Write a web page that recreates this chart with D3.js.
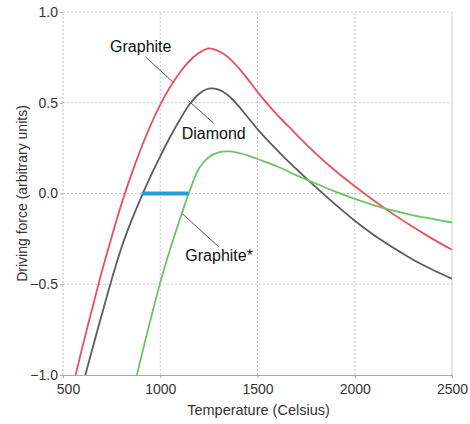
<!DOCTYPE html>
<html><head><meta charset="utf-8">
<script src="https://cdn.jsdelivr.net/npm/d3@7"></script>
<style>
html,body{margin:0;padding:0;background:#fff;}
svg{display:block;font-family:"Liberation Sans",Arial,sans-serif;}
</style></head>
<body><div id="chart"></div>
<script>
// ---- data ----
const xTicks = [500, 1000, 1500, 2000, 2500];
const yTicks = [-1.0, -0.5, 0.0, 0.5, 1.0];

const graphiteT = [565, 600, 650, 700, 750, 800, 850, 900, 950, 1000, 1050, 1100, 1150, 1200, 1250, 1300, 1350, 1400, 1450, 1500, 1550, 1600, 1650, 1700, 1800, 1900, 2000, 2100, 2200, 2300, 2400, 2500];
const graphiteV = [-1.0, -0.845, -0.635, -0.43, -0.24, -0.06, 0.10, 0.245, 0.375, 0.49, 0.585, 0.665, 0.73, 0.775, 0.80, 0.785, 0.75, 0.695, 0.63, 0.56, 0.495, 0.435, 0.38, 0.325, 0.22, 0.125, 0.04, -0.04, -0.115, -0.185, -0.25, -0.31];

const diamondT = [615, 650, 700, 750, 800, 850, 900, 950, 1000, 1050, 1100, 1150, 1200, 1250, 1300, 1350, 1400, 1450, 1500, 1550, 1600, 1650, 1700, 1800, 1900, 2000, 2100, 2200, 2300, 2400, 2500];
const diamondV = [-1.0, -0.86, -0.665, -0.475, -0.30, -0.155, -0.025, 0.095, 0.205, 0.31, 0.405, 0.49, 0.55, 0.578, 0.572, 0.54, 0.485, 0.42, 0.355, 0.295, 0.24, 0.185, 0.135, 0.035, -0.06, -0.15, -0.23, -0.30, -0.365, -0.42, -0.47];

const graphiteStarT = [880, 900, 950, 1000, 1050, 1100, 1150, 1200, 1250, 1300, 1350, 1400, 1450, 1500, 1600, 1700, 1800, 1900, 2000, 2100, 2200, 2300, 2400, 2500];
const graphiteStarV = [-1.0, -0.91, -0.695, -0.49, -0.31, -0.145, 0.01, 0.14, 0.20, 0.226, 0.232, 0.224, 0.21, 0.19, 0.15, 0.10, 0.055, 0.01, -0.03, -0.065, -0.095, -0.12, -0.14, -0.16];

const gapT = [905, 1146];
const gapV = [0, 0];

// annotation anchors in data units: [textT, textV, lineT1, lineV1, lineT2, lineV2]
const labelNames = ["Graphite", "Diamond", "Graphite*"];
const labelAnchors = [
  [742, 0.78, 923, 0.754, 1069, 0.61],
  [1110, 0.30, 1146, 0.51, 1275, 0.387],
  [1129, -0.372, 1112, -0.11, 1300, -0.293]
];

// ---- layout ----
const W = 470, H = 424;
const margin = {left: 63, right: 18, top: 12, bottom: 49};
const svg = d3.select("#chart").append("svg").attr("width", W).attr("height", H);

const x = d3.scaleLinear().domain([500, 2500]).range([margin.left, W - margin.right]);
const y = d3.scaleLinear().domain([-1, 1]).range([H - margin.bottom, margin.top]);

const gridColor = "#c8c8c8";
// grid
svg.append("g").selectAll("line").data(xTicks.slice(1, -1)).join("line")
  .attr("x1", d => x(d)).attr("x2", d => x(d)).attr("y1", y(-1)).attr("y2", y(1))
  .attr("stroke", gridColor).attr("stroke-width", 1).attr("stroke-dasharray", "2,2");
svg.append("g").selectAll("line").data(yTicks.slice(1)).join("line")
  .attr("x1", x(500)).attr("x2", x(2500)).attr("y1", d => y(d)).attr("y2", d => y(d))
  .attr("stroke", gridColor).attr("stroke-width", 1).attr("stroke-dasharray", "2,2");
// left border dotted
svg.append("line").attr("x1", x(500)).attr("x2", x(500)).attr("y1", y(-1)).attr("y2", y(1))
  .attr("stroke", "#bbb").attr("stroke-dasharray", "2,2");
// right border solid
svg.append("line").attr("x1", x(2500)).attr("x2", x(2500)).attr("y1", y(-1)).attr("y2", y(1))
  .attr("stroke", "#d0d0d0");

// axes
const xAxis = svg.append("g").attr("transform", `translate(0,${y(-1)})`)
  .call(d3.axisBottom(x).tickValues(xTicks).tickFormat(d3.format("d")).tickSize(3).tickPadding(6));
xAxis.select(".domain").attr("stroke", "#aaa");
xAxis.selectAll(".tick line").attr("stroke", "#aaa");
xAxis.selectAll("text").attr("font-size", 14).attr("fill", "#333").style("font-family", "Liberation Sans, Arial, sans-serif");
xAxis.selectAll(".tick").filter(d => d === 500).select("text").attr("dx", 5);

const yAxis = svg.append("g").attr("transform", `translate(${x(500)},0)`)
  .call(d3.axisLeft(y).tickValues(yTicks).tickFormat(d3.format(".1f")).tickSize(3).tickPadding(2));
yAxis.select(".domain").remove();
yAxis.selectAll(".tick line").attr("stroke", "#aaa");
yAxis.selectAll("text").attr("font-size", 14).attr("fill", "#333").style("font-family", "Liberation Sans, Arial, sans-serif");

// titles
svg.append("text").attr("x", (x(500) + x(2500)) / 2 + 1).attr("y", 415)
  .attr("text-anchor", "middle").attr("font-size", 14.5).attr("fill", "#333")
  .text("Temperature (Celsius)");
svg.append("text").attr("transform", `translate(27,${(y(-1) + y(1)) / 2}) rotate(-90)`)
  .attr("text-anchor", "middle").attr("font-size", 14).attr("fill", "#333")
  .text("Driving force (arbitrary units)");

// clip
svg.append("clipPath").attr("id", "clip").append("rect")
  .attr("x", x(500)).attr("y", y(1)).attr("width", x(2500) - x(500)).attr("height", y(-1) - y(1));

const line = d3.line().x(d => x(d[0])).y(d => y(d[1])).curve(d3.curveCatmullRom.alpha(0.5));
const zip = (a, b) => a.map((t, i) => [t, b[i]]);

const series = [
  {t: graphiteT, v: graphiteV, color: "#e8505e"},
  {t: diamondT, v: diamondV, color: "#5c5c5c"},
  {t: graphiteStarT, v: graphiteStarV, color: "#6cc464"}
];
const g = svg.append("g").attr("clip-path", "url(#clip)");
series.forEach(s => {
  g.append("path").datum(zip(s.t, s.v)).attr("d", line)
    .attr("fill", "none").attr("stroke", s.color).attr("stroke-width", 1.8);
});

// blue gap segment
svg.append("path").datum(zip(gapT, gapV)).attr("d", d3.line().x(d => x(d[0])).y(d => y(d[1])))
  .attr("stroke", "#1a9fe0").attr("stroke-width", 4).attr("fill", "none");

// annotations
labelAnchors.forEach((a, i) => {
  svg.append("line").attr("x1", x(a[2])).attr("y1", y(a[3])).attr("x2", x(a[4])).attr("y2", y(a[5]))
    .attr("stroke", "#555").attr("stroke-width", 1);
  svg.append("text").attr("x", x(a[0])).attr("y", y(a[1]))
    .attr("font-size", 16).attr("fill", "#111").text(labelNames[i]);
});
</script>
</body></html>
